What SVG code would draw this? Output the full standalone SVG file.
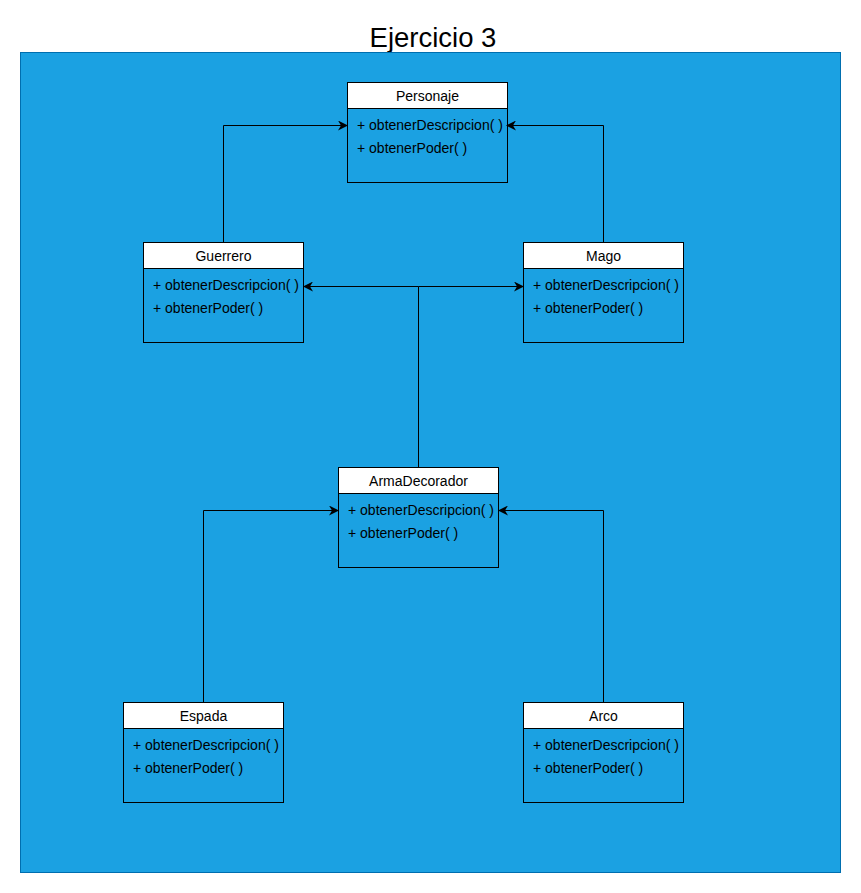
<svg xmlns="http://www.w3.org/2000/svg" width="861" height="893" viewBox="0 0 861 893">
<style>
.box{fill:none;stroke:#000;stroke-width:1}
.hdr{fill:#fff;stroke:#000;stroke-width:1}
.t{font-family:"Liberation Sans",Arial,sans-serif;font-size:14px;fill:#000}
.c{text-anchor:middle}
.ln{fill:none;stroke:#000;stroke-width:1}
</style>
<defs>
<marker id="ar" viewBox="0 0 10 10" refX="9" refY="5" markerWidth="10" markerHeight="10" markerUnits="userSpaceOnUse" orient="auto">
<path d="M0,0 L10,5 L0,10 L3,5 Z" fill="#000"/>
</marker>
</defs>
<rect x="0" y="0" width="861" height="893" fill="#fff"/>
<text x="433" y="46.5" font-family="'Liberation Sans',Arial,sans-serif" font-size="27.5" text-anchor="middle" fill="#000">Ejercicio 3</text>
<rect x="20.5" y="52.5" width="820" height="820" fill="#1ba1e2" stroke="#006eaf" stroke-width="1"/>
<g id="connectors">
<path class="ln" d="M223.5,242.5 V125.5 H347" marker-end="url(#ar)"/>
<path class="ln" d="M603.5,242.5 V125.5 H507" marker-end="url(#ar)"/>
<path class="ln" d="M418.5,467.5 V286.5 H304" marker-end="url(#ar)"/>
<path class="ln" d="M418.5,286.5 H523" marker-end="url(#ar)"/>
<path class="ln" d="M203.5,702.5 V510.5 H338" marker-end="url(#ar)"/>
<path class="ln" d="M603.5,702.5 V510.5 H499" marker-end="url(#ar)"/>
</g>
<g id="personaje">
<rect class="hdr" x="347.5" y="82.5" width="160" height="26"/>
<rect class="box" x="347.5" y="82.5" width="160" height="100"/>
<text class="t c" x="427.5" y="101">Personaje</text>
<text class="t" x="357" y="129.5">+ obtenerDescripcion( )</text>
<text class="t" x="357" y="152.5">+ obtenerPoder( )</text>
</g>
<g id="guerrero">
<rect class="hdr" x="143.5" y="242.5" width="160" height="26"/>
<rect class="box" x="143.5" y="242.5" width="160" height="100"/>
<text class="t c" x="223.5" y="261">Guerrero</text>
<text class="t" x="153" y="289.5">+ obtenerDescripcion( )</text>
<text class="t" x="153" y="312.5">+ obtenerPoder( )</text>
</g>
<g id="mago">
<rect class="hdr" x="523.5" y="242.5" width="160" height="26"/>
<rect class="box" x="523.5" y="242.5" width="160" height="100"/>
<text class="t c" x="603.5" y="261">Mago</text>
<text class="t" x="533" y="289.5">+ obtenerDescripcion( )</text>
<text class="t" x="533" y="312.5">+ obtenerPoder( )</text>
</g>
<g id="armadecorador">
<rect class="hdr" x="338.5" y="467.5" width="160" height="26"/>
<rect class="box" x="338.5" y="467.5" width="160" height="100"/>
<text class="t c" x="418.5" y="486">ArmaDecorador</text>
<text class="t" x="348" y="514.5">+ obtenerDescripcion( )</text>
<text class="t" x="348" y="537.5">+ obtenerPoder( )</text>
</g>
<g id="espada">
<rect class="hdr" x="123.5" y="702.5" width="160" height="26"/>
<rect class="box" x="123.5" y="702.5" width="160" height="100"/>
<text class="t c" x="203.5" y="721">Espada</text>
<text class="t" x="133" y="749.5">+ obtenerDescripcion( )</text>
<text class="t" x="133" y="772.5">+ obtenerPoder( )</text>
</g>
<g id="arco">
<rect class="hdr" x="523.5" y="702.5" width="160" height="26"/>
<rect class="box" x="523.5" y="702.5" width="160" height="100"/>
<text class="t c" x="603.5" y="721">Arco</text>
<text class="t" x="533" y="749.5">+ obtenerDescripcion( )</text>
<text class="t" x="533" y="772.5">+ obtenerPoder( )</text>
</g>
</svg>
